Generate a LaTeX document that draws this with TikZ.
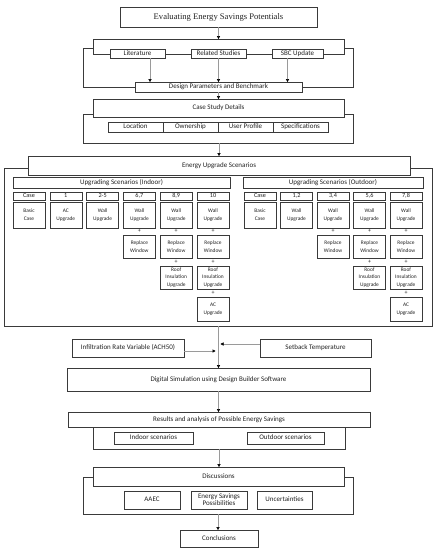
\documentclass[tikz,border=0pt]{standalone}
\usepackage{fontspec}
\setmainfont{Carlito}
\newfontfamily\titlefont{Liberation Serif}
\usetikzlibrary{arrows.meta}
\definecolor{bc}{HTML}{3A3A3A}
\definecolor{lc}{HTML}{9A9A9A}
\definecolor{tc}{HTML}{222222}
\newcommand\B[7]{\node[#1,minimum width={(#5)*1pt-(#3)*1pt},minimum height={(#6)*1pt-(#4)*1pt}] (#2) at ({((#3)+(#5))/2},{((#4)+(#6))/2}) {#7};}
\tikzset{
  base/.style={draw=bc, fill=white, line width=0.6pt, inner sep=0pt, outer sep=0pt, align=center, text=tc},
  box/.style={base, font=\fontsize{7}{8}\selectfont, text height=4.7pt, text depth=1.4pt},
  mbox/.style={base, font=\fontsize{7}{8}\selectfont},
  tbox/.style={base, font=\titlefont\fontsize{8.6}{10}\selectfont},
  frame/.style={base},
  hbox/.style={base, font=\fontsize{6.2}{7}\selectfont, text height=4.2pt, text depth=1.2pt},
  sbox/.style={base, font=\fontsize{5.4}{7.7}\selectfont},
  plus/.style={inner sep=0pt, font=\fontsize{6}{6}\selectfont, text=tc},
  arr/.style={draw=lc, line width=0.5pt, -{Triangle[length=3pt,width=3.2pt,color=black]}}
}
\begin{document}
\begin{tikzpicture}[x=1pt,y=-1pt]
\useasboundingbox (0,0) rectangle (437,550);
\fill[white] (0,0) rectangle (437,550);

% title
\B{tbox}{title}{120}{7}{317}{27}{Evaluating Energy Savings Potentials}

% section 1
\B{frame}{f1}{83}{48}{353}{87}{}
\B{frame}{h1}{93}{39}{344}{54}{}
\B{box}{lit}{110}{49}{165}{58}{Literature}
\B{box}{rel}{191}{49}{246}{58}{Related Studies}
\B{box}{sbc}{272}{49}{323}{58}{SBC Update}
\B{box}{dp}{135}{82}{302}{92}{Design Parameters and Benchmark}
\draw[arr] (title.south) -- (title.south |- h1.north);
\draw[arr] ([xshift=12.5pt]lit.south) -- ([xshift=12.5pt]lit.south |- dp.north);
\draw[arr] (rel.south) -- (rel.south |- dp.north);
\draw[arr] ([xshift=-10pt]sbc.south) -- ([xshift=-10pt]sbc.south |- dp.north);

% section 2
\B{frame}{f2}{83}{114}{353}{143}{}
\B{box}{cs}{93}{99}{344}{117}{Case Study Details}
\B{box}{loc}{108}{122}{163}{132}{Location}
\B{box}{own}{163}{122}{218}{132}{Ownership}
\B{box}{usr}{218}{122}{273}{132}{User Profile}
\B{box}{spec}{273}{122}{328}{132}{Specifications}
\draw[arr] (dp.south -| cs.north) -- (cs.north);

% section 3
\B{frame}{f3}{4}{168}{432}{326}{}
\B{box}{eu}{28}{156}{410}{175}{Energy Upgrade Scenarios}
\draw[arr] (f2.south -| eu.north) -- (eu.north);
\B{box}{ind}{13}{177}{230}{188}{Upgrading Scenarios (Indoor)}
\B{box}{outd}{243}{177}{423}{188}{Upgrading Scenarios (Outdoor)}

\foreach \nm/\x/\lab/\t in {ia/13/Case/{Basic\\Case}, ib/49.8/1/{AC\\Upgrade}, ic/86.6/2-5/{Wall\\Upgrade},
  id/123.4/{6,7}/{Wall\\Upgrade}, ie/160.2/{8,9}/{Wall\\Upgrade}, if/197/10/{Wall\\Upgrade},
  oa/244/Case/{Basic\\Case}, ob/280.5/{1,2}/{Wall\\Upgrade}, oc/317/{3,4}/{Wall\\Upgrade},
  od/353.5/{5,6}/{Wall\\Upgrade}, oe/390/{7,8}/{Wall\\Upgrade}}{
  \B{hbox}{\nm-h}{\x}{192}{\x+32}{200}{\lab}
  \B{sbox}{\nm-1}{\x}{202}{\x+32}{228}{\t}
}
\foreach \nm/\x in {id/123.4, ie/160.2, if/197, oc/317, od/353.5, oe/390}{
  \node[plus] (\nm-p2) at (\x+16,231) {+};
  \B{sbox}{\nm-2}{\x}{235}{\x+32}{258}{Replace\\Window}
}
\foreach \nm/\x in {ie/160.2, if/197, od/353.5, oe/390}{
  \node[plus] (\nm-p3) at (\x+16,262) {+};
  \B{sbox}{\nm-3}{\x}{266}{\x+32}{289}{Roof\\Insulation\\Upgrade}
}
\foreach \nm/\x in {if/197, oe/390}{
  \node[plus] (\nm-p4) at (\x+16,292.5) {+};
  \B{sbox}{\nm-4}{\x}{297}{\x+32}{321}{AC\\Upgrade}
}

% section 4
\B{box}{inf}{72}{339}{184}{357}{Infiltration Rate Variable (ACH50)}
\B{box}{set}{260}{339}{371}{357}{Setback Temperature}
\B{box}{sim}{67}{368}{370}{391}{Digital Simulation using Design Builder Software}
\coordinate (j1) at (215.5,351);
\coordinate (j2) at (220.5,344);
\draw[arr] (f3.south -| sim.north) -- (sim.north);
\draw[arr] ([yshift=-3pt]inf.east) -- (j1);
\draw[arr] ([yshift=4pt]set.west) -- (j2);

% section 5
\B{frame}{f5}{93}{420}{345}{449}{}
\B{box}{res}{68}{412}{370}{427}{Results and analysis of Possible Energy Savings}
\B{box}{isc}{114}{432}{193}{444}{Indoor scenarios}
\B{box}{osc}{247}{432}{324}{444}{Outdoor scenarios}
\draw[arr] (sim.south) -- (sim.south |- res.north);

% section 6
\B{frame}{f6}{83}{477}{353}{514}{}
\B{box}{dis}{93}{467}{344}{486}{Discussions}
\B{box}{aaec}{124}{491}{180}{509}{AAEC}
\B{mbox}{esp}{191}{491}{247}{509}{Energy Savings\\[-0.8pt]Possibilities}
\B{box}{unc}{257}{491}{312}{509}{Uncertainties}
\draw[arr] (f5.south) -- (f5.south |- dis.north);
\B{box}{con}{180}{530}{258}{547}{Conclusions}
\draw[arr] (f6.south) -- (f6.south |- con.north);
\end{tikzpicture}
\end{document}
